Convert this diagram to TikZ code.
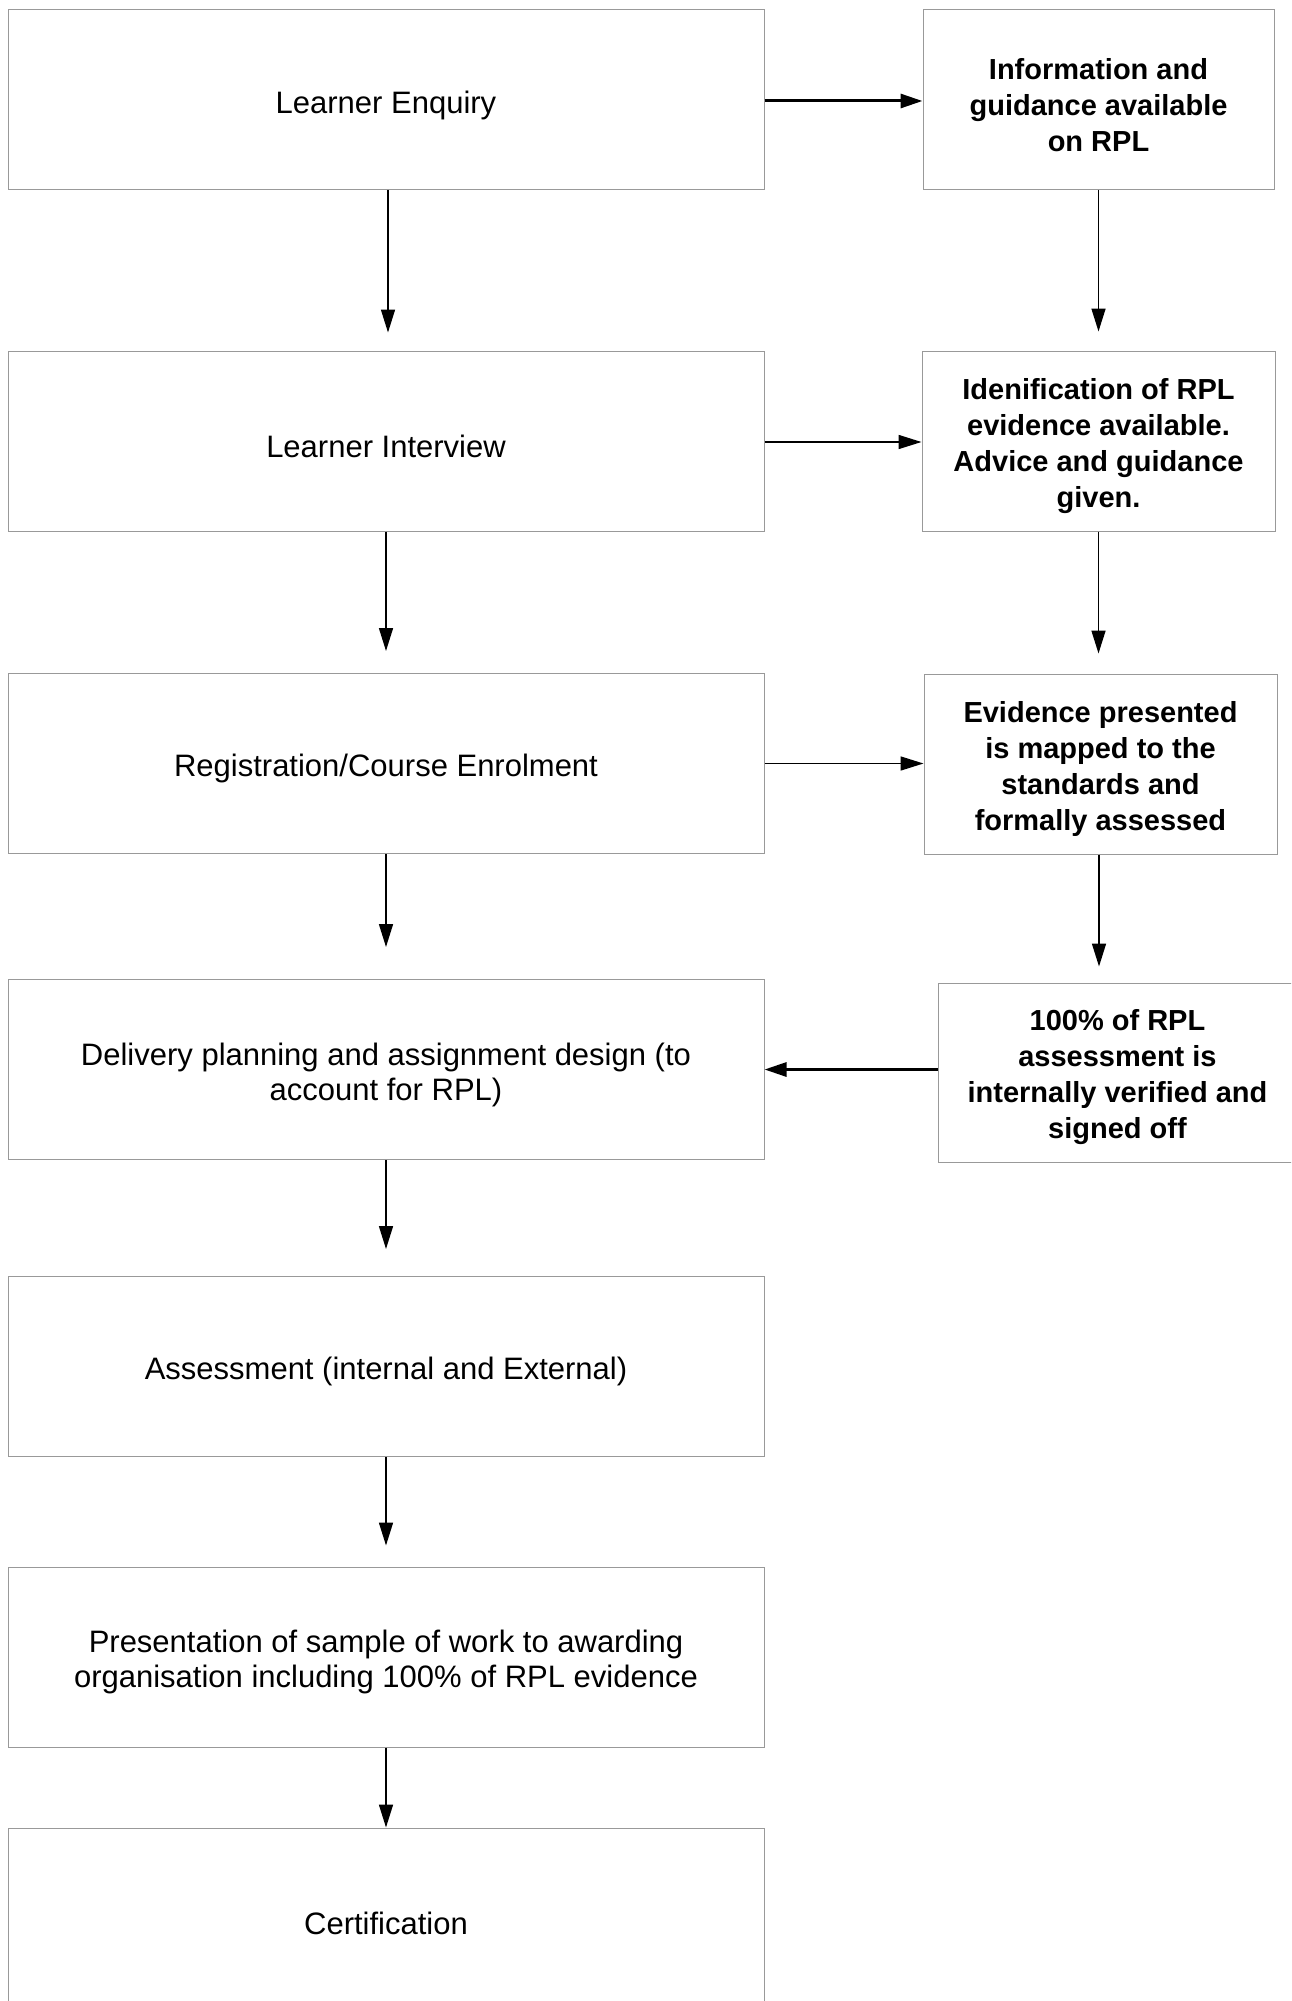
\documentclass[tikz,border=0pt]{standalone}
\usepackage{fontspec}
\setmainfont{Liberation Sans}
\usetikzlibrary{arrows.meta}
\begin{document}
\begin{tikzpicture}[x=1pt,y=-1pt,
  lbox/.style={draw=black!40,line width=1pt,minimum width=756pt,minimum height=180pt,inner sep=0pt},
  rbox/.style={draw=black!40,line width=1pt,minimum height=180pt,inner sep=0pt},
  ltext/.style={inner sep=0pt,align=center,yshift=-5pt,font=\fontsize{31}{35}\selectfont},
  rtext/.style={inner sep=0pt,align=center,yshift=-5pt,font=\bfseries\fontsize{29}{36}\selectfont},
  thin/.style={line width=1.6pt,-{Triangle[length=23pt,width=14pt]}},
  thick/.style={line width=3pt,-{Triangle[length=22pt,width=14pt]}}]
\useasboundingbox (0,0) rectangle (1291,2001);
\clip (0,0) rectangle (1291,2001);
\fill[white] (0,0) rectangle (1291,2001);
% left column
\node[lbox,label={[ltext,name=L1t]center:Learner Enquiry}] (L1) at (386,100) {};
\node[lbox,label={[ltext,name=L2t]center:Learner Interview}] (L2) at (386,441) {};
\node[lbox,label={[ltext,name=L3t]center:Registration/Course Enrolment}] (L3) at (386,763.5) {};
\node[lbox,label={[ltext,name=L4t]center:{Delivery planning and assignment design (to\\account for RPL)}}] (L4) at (386,1069.5) {};
\node[lbox,label={[ltext,name=L5t]center:{Assessment (internal and External)}}] (L5) at (386,1366.5) {};
\node[lbox,label={[ltext,name=L6t]center:{Presentation of sample of work to awarding\\organisation including 100\% of RPL evidence}}] (L6) at (386,1657) {};
\node[lbox,label={[ltext,name=L7t]center:Certification}] (L7) at (386,1918) {};
% right column
\node[rbox,minimum width=351pt,label={[rtext,name=R1t]center:{Information and\\guidance available\\on RPL}}] (R1) at (1098.5,100) {};
\node[rbox,minimum width=353pt,label={[rtext,name=R2t]center:{Idenification of RPL\\evidence available.\\Advice and guidance\\given.}}] (R2) at (1098.5,441) {};
\node[rbox,minimum width=353pt,label={[rtext,name=R3t]center:{Evidence presented\\is mapped to the\\standards and\\formally assessed}}] (R3) at (1100.5,764) {};
\node[rbox,minimum width=355pt,minimum height=179pt,label={[rtext,name=R4t,xshift=2pt]center:{100\% of RPL\\assessment is\\internally verified and\\signed off}}] (R4) at (1115.5,1072.5) {};
% left down arrows
\draw[thin] ([xshift=2pt]L1.south) -- ([xshift=2pt,yshift=18pt]L2.north);
\draw[thin] (L2.south) -- ([yshift=22pt]L3.north);
\draw[thin] (L3.south) -- ([yshift=32pt]L4.north);
\draw[thin] (L4.south) -- ([yshift=27pt]L5.north);
\draw[thin] (L5.south) -- ([yshift=21pt]L6.north);
\draw[thin] (L6.south) -- (L7.north);
% right down arrows
\draw[thin] (R1.south) -- ([yshift=19pt]R2.north);
\draw[thin] (R2.south) -- ([yshift=20pt]R2.south |- R3.north);
\draw[thin] ([xshift=-1.5pt]R3.south) -- ([xshift=-1.5pt,yshift=16pt]R3.south |- R4.north);
% horizontal arrows
\draw[thick] ([yshift=-1pt]L1.east) -- ([yshift=-1pt]R1.west);
\draw[thin] ([yshift=-1pt]L2.east) -- ([yshift=-1pt]R2.west);
\draw[thin] (L3.east) -- (L3.east -| R3.west);
\draw[thick] (R4.west |- L4.east) -- (L4.east);
\end{tikzpicture}
\end{document}
